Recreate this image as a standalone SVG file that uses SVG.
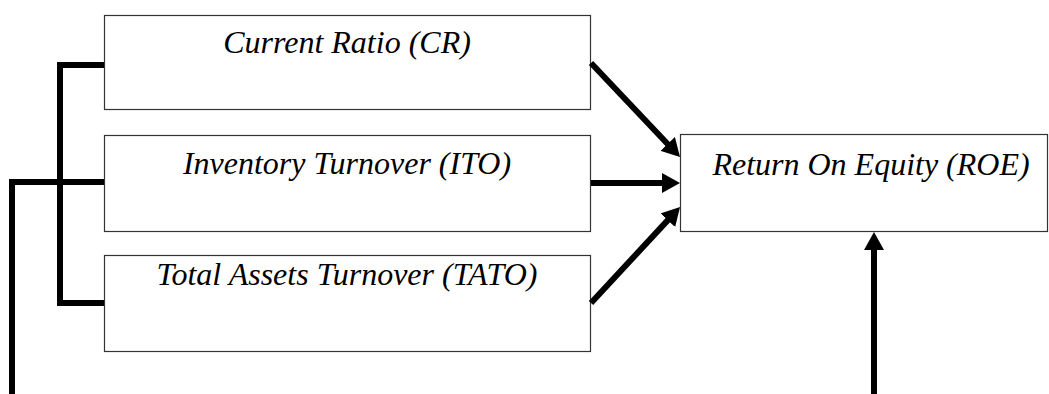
<svg xmlns="http://www.w3.org/2000/svg" width="1049" height="394" viewBox="0 0 1049 394">
<style>
.box{fill:#fff;stroke:#333;stroke-width:1.2}
.lbl{font-family:"Liberation Serif","Times New Roman",serif;font-style:italic;font-size:32px;fill:#000;text-anchor:middle}
.con{fill:none;stroke:#000;stroke-width:6;stroke-linejoin:miter;stroke-linecap:butt}
</style>
<defs>
<marker id="ah" markerUnits="userSpaceOnUse" markerWidth="18" markerHeight="20" refX="10" refY="10" orient="auto" viewBox="0 0 18 20">
<path d="M0,0 L18,10 L0,20 z" fill="#000"/>
</marker>
</defs>
<rect width="1049" height="394" fill="#fff"/>
<g id="node-cr">
<rect class="box" x="104.5" y="15.5" width="486" height="94"/>
<text class="lbl" x="347" y="53">Current Ratio (CR)</text>
</g>
<g id="node-ito">
<rect class="box" x="104.5" y="135.5" width="486" height="96"/>
<text class="lbl" x="347" y="174">Inventory Turnover (ITO)</text>
</g>
<g id="node-tato">
<rect class="box" x="104.5" y="255.5" width="486" height="96"/>
<text class="lbl" x="347" y="285">Total Assets Turnover (TATO)</text>
</g>
<g id="node-roe">
<rect class="box" x="680.5" y="134.5" width="367" height="97"/>
<text class="lbl" x="871" y="175">Return On Equity (ROE)</text>
</g>
<g id="connectors">
<path class="con" d="M104,65 H60 V303 H104"/>
<path class="con" d="M104,182 H12 V394"/>
<line class="con" x1="591" y1="63" x2="674.5" y2="151.2" marker-end="url(#ah)"/>
<line class="con" x1="591" y1="183" x2="672" y2="183" marker-end="url(#ah)"/>
<line class="con" x1="591" y1="303" x2="674.6" y2="212.9" marker-end="url(#ah)"/>
<line class="con" x1="874" y1="394" x2="874" y2="240" marker-end="url(#ah)"/>
</g>
</svg>
